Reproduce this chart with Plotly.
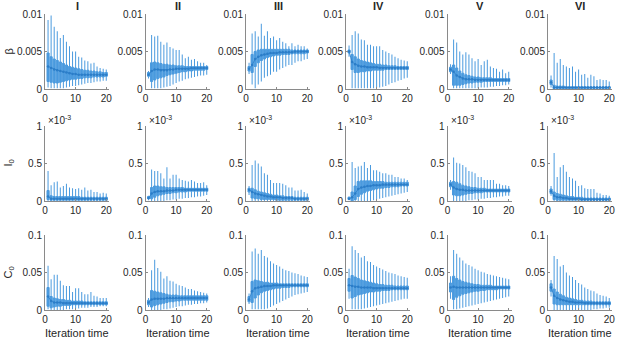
import plotly.graph_objects as go

ITER = [1, 2, 3, 4, 5, 6, 7, 8, 9, 10, 11, 12, 13, 14, 15, 16, 17, 18, 19, 20]
COLS = ["I", "II", "III", "IV", "V", "VI"]
ROW_LABELS = ["β", "I<sub>0</sub>", "C<sub>0</sub>"]
X_TICKS = [0, 10, 20]
Y_TICKS = [[0, 0.005, 0.01], [0, 0.5, 1], [0, 0.05, 0.1]]
Y_TICKTEXT = [["0", "0.005", "0.01"], ["0", "0.5", "1"], ["0", "0.05", "0.1"]]
ROW_SCALE = [1e-3, 1.0, 1e-2]   # row 1 values typed in 1e-3, row 2 in 1e-3 (axis x10^-3), row 3 in 1e-2

# ---------------- Row 1: beta (units of 1e-3) ----------------
BETA_UP = [
    [9.2, 9.8, 8.3, 7.7, 6.8, 7.2, 6.3, 5.7, 5.0, 5.0, 4.3, 4.2, 3.8, 3.7, 3.4, 3.5, 3.0, 2.8, 2.7, 2.6],
    [2.4, 7.2, 7.0, 7.1, 6.3, 5.9, 6.2, 5.6, 5.4, 5.2, 5.2, 4.6, 4.1, 4.3, 3.9, 4.0, 3.7, 3.5, 3.5, 3.2],
    [3.5, 7.4, 7.7, 7.0, 8.7, 7.1, 7.7, 6.8, 7.0, 6.5, 6.8, 6.3, 6.1, 5.7, 6.1, 5.7, 5.9, 5.7, 5.7, 5.4],
    [5.8, 7.2, 7.7, 7.4, 6.6, 6.5, 5.9, 5.9, 5.7, 5.7, 5.7, 5.2, 5.0, 4.8, 4.6, 4.3, 4.1, 3.9, 3.8, 3.7],
    [3.3, 6.6, 6.2, 5.0, 4.6, 4.9, 4.6, 4.1, 3.7, 4.0, 3.2, 3.7, 3.9, 3.0, 2.8, 2.7, 2.3, 2.6, 2.1, 2.3],
    [1.8, 4.8, 3.5, 4.0, 3.2, 3.0, 2.8, 3.0, 2.3, 2.6, 1.9, 2.0, 1.5, 1.9, 1.7, 1.2, 1.3, 1.2, 1.2, 1.0],
]
BETA_Q3 = [
    [4.8, 4.3, 4.0, 3.8, 3.6, 3.4, 3.2, 3.0, 2.9, 2.8, 2.7, 2.6, 2.5, 2.5, 2.4, 2.4, 2.3, 2.3, 2.2, 2.2],
    [2.2, 3.5, 3.6, 3.5, 3.4, 3.3, 3.3, 3.2, 3.2, 3.1, 3.1, 3.1, 3.0, 3.0, 3.0, 3.0, 3.0, 3.0, 3.0, 3.0],
    [3.0, 4.6, 5.0, 5.2, 5.3, 5.3, 5.3, 5.3, 5.3, 5.3, 5.3, 5.3, 5.3, 5.3, 5.2, 5.2, 5.2, 5.2, 5.2, 5.2],
    [5.2, 4.6, 4.3, 4.0, 3.8, 3.7, 3.6, 3.5, 3.4, 3.3, 3.3, 3.2, 3.2, 3.1, 3.1, 3.1, 3.0, 3.0, 3.0, 3.0],
    [2.9, 3.2, 2.8, 2.4, 2.1, 1.9, 1.8, 1.7, 1.6, 1.6, 1.5, 1.5, 1.5, 1.5, 1.4, 1.4, 1.4, 1.4, 1.4, 1.4],
    [1.2, 0.5, 0.4, 0.4, 0.4, 0.3, 0.3, 0.3, 0.3, 0.3, 0.3, 0.3, 0.3, 0.3, 0.3, 0.3, 0.3, 0.3, 0.3, 0.3],
]
BETA_MED = [
    [3.0, 2.8, 2.6, 2.5, 2.4, 2.3, 2.2, 2.1, 2.0, 2.0, 1.9, 1.9, 1.9, 1.9, 1.9, 1.9, 1.9, 1.9, 1.9, 1.9],
    [1.9, 2.4, 2.6, 2.6, 2.5, 2.5, 2.5, 2.6, 2.6, 2.7, 2.7, 2.7, 2.7, 2.7, 2.8, 2.8, 2.8, 2.8, 2.8, 2.8],
    [2.7, 3.2, 4.0, 4.3, 4.5, 4.6, 4.7, 4.8, 4.8, 4.8, 4.9, 4.9, 4.9, 4.9, 4.9, 5.0, 5.0, 5.0, 5.0, 5.0],
    [5.0, 3.6, 3.3, 3.1, 3.0, 3.0, 2.9, 2.9, 2.9, 2.9, 2.8, 2.8, 2.8, 2.8, 2.8, 2.8, 2.8, 2.8, 2.8, 2.8],
    [2.6, 2.3, 1.8, 1.6, 1.4, 1.3, 1.3, 1.3, 1.2, 1.2, 1.2, 1.2, 1.2, 1.2, 1.2, 1.2, 1.2, 1.2, 1.2, 1.2],
    [0.9, 0.2, 0.2, 0.2, 0.2, 0.2, 0.2, 0.2, 0.2, 0.2, 0.2, 0.2, 0.2, 0.2, 0.2, 0.2, 0.2, 0.2, 0.2, 0.2],
]
BETA_Q1 = [
    [1.0, 0.9, 0.8, 0.8, 0.9, 1.0, 1.1, 1.2, 1.3, 1.3, 1.4, 1.4, 1.5, 1.5, 1.5, 1.6, 1.6, 1.6, 1.6, 1.7],
    [1.7, 1.0, 1.2, 1.4, 1.5, 1.6, 1.8, 1.9, 2.0, 2.1, 2.2, 2.3, 2.3, 2.4, 2.4, 2.5, 2.5, 2.5, 2.5, 2.6],
    [2.4, 2.2, 3.0, 3.5, 3.8, 4.0, 4.2, 4.3, 4.4, 4.5, 4.5, 4.6, 4.6, 4.6, 4.7, 4.7, 4.7, 4.7, 4.7, 4.8],
    [4.8, 2.6, 2.2, 2.2, 2.3, 2.3, 2.4, 2.4, 2.5, 2.5, 2.5, 2.5, 2.6, 2.6, 2.6, 2.6, 2.6, 2.6, 2.6, 2.6],
    [2.3, 0.5, 0.5, 0.5, 0.6, 0.7, 0.8, 0.8, 0.9, 0.9, 0.9, 1.0, 1.0, 1.0, 1.0, 1.0, 1.0, 1.0, 1.0, 1.0],
    [0.6, 0.05, 0.05, 0.05, 0.05, 0.05, 0.05, 0.05, 0.05, 0.05, 0.05, 0.05, 0.05, 0.05, 0.05, 0.05, 0.05, 0.05, 0.05, 0.05],
]
BETA_LO = [
    [0.2, 0.1, 0.1, 0.1, 0.1, 0.1, 0.2, 0.3, 0.4, 0.4, 0.5, 0.6, 0.7, 0.8, 0.8, 0.9, 1.0, 1.0, 1.1, 1.1],
    [1.4, 0.1, 0.1, 0.1, 0.1, 0.2, 0.3, 0.4, 0.6, 0.8, 1.0, 1.1, 1.3, 1.4, 1.5, 1.6, 1.7, 1.8, 1.8, 1.9],
    [2.0, 0.6, 0.1, 0.6, 1.0, 1.5, 1.7, 1.9, 2.3, 2.3, 2.6, 2.8, 3.0, 3.2, 3.2, 3.5, 3.7, 3.7, 3.9, 4.0],
    [4.3, 0.1, 0.1, 0.1, 0.1, 0.1, 0.1, 0.1, 0.1, 0.2, 0.2, 0.3, 0.4, 0.6, 0.8, 0.9, 1.1, 1.2, 1.4, 1.5],
    [2.0, 0.1, 0.1, 0.1, 0.1, 0.1, 0.1, 0.1, 0.1, 0.1, 0.2, 0.2, 0.2, 0.3, 0.3, 0.4, 0.4, 0.5, 0.5, 0.6],
    [0.2, 0.0, 0.0, 0.0, 0.0, 0.0, 0.0, 0.0, 0.0, 0.0, 0.0, 0.0, 0.0, 0.0, 0.0, 0.0, 0.0, 0.0, 0.0, 0.0],
]

# ---------------- Row 2: I0 (units of 1e-3) ----------------
I0_UP = [
    [0.40, 0.21, 0.25, 0.26, 0.18, 0.20, 0.23, 0.18, 0.17, 0.16, 0.17, 0.15, 0.18, 0.14, 0.15, 0.12, 0.12, 0.10, 0.11, 0.10],
    [0.07, 0.42, 0.40, 0.40, 0.37, 0.30, 0.45, 0.30, 0.35, 0.35, 0.30, 0.28, 0.27, 0.26, 0.28, 0.26, 0.24, 0.24, 0.25, 0.21],
    [0.20, 0.48, 0.54, 0.50, 0.46, 0.37, 0.35, 0.28, 0.24, 0.24, 0.24, 0.23, 0.21, 0.18, 0.18, 0.14, 0.14, 0.15, 0.12, 0.10],
    [0.06, 0.52, 0.44, 0.46, 0.47, 0.52, 0.44, 0.48, 0.41, 0.41, 0.39, 0.37, 0.37, 0.35, 0.35, 0.32, 0.32, 0.30, 0.30, 0.28],
    [0.28, 0.58, 0.51, 0.50, 0.48, 0.45, 0.40, 0.39, 0.37, 0.32, 0.32, 0.28, 0.28, 0.28, 0.28, 0.23, 0.23, 0.21, 0.21, 0.20],
    [0.20, 0.64, 0.32, 0.45, 0.48, 0.39, 0.32, 0.30, 0.27, 0.20, 0.21, 0.17, 0.16, 0.16, 0.16, 0.11, 0.10, 0.08, 0.08, 0.07],
]
I0_Q3 = [
    [0.14, 0.07, 0.06, 0.06, 0.06, 0.06, 0.06, 0.06, 0.06, 0.06, 0.06, 0.05, 0.05, 0.05, 0.05, 0.05, 0.05, 0.05, 0.05, 0.05],
    [0.06, 0.18, 0.20, 0.20, 0.19, 0.19, 0.18, 0.18, 0.18, 0.18, 0.18, 0.18, 0.17, 0.17, 0.17, 0.17, 0.17, 0.17, 0.17, 0.17],
    [0.17, 0.17, 0.15, 0.13, 0.12, 0.11, 0.10, 0.09, 0.08, 0.08, 0.07, 0.07, 0.06, 0.06, 0.06, 0.05, 0.05, 0.05, 0.05, 0.05],
    [0.05, 0.12, 0.20, 0.26, 0.27, 0.27, 0.27, 0.27, 0.26, 0.26, 0.26, 0.26, 0.25, 0.25, 0.25, 0.25, 0.25, 0.25, 0.25, 0.25],
    [0.25, 0.26, 0.25, 0.23, 0.21, 0.20, 0.19, 0.18, 0.18, 0.17, 0.17, 0.17, 0.16, 0.16, 0.16, 0.16, 0.16, 0.16, 0.16, 0.16],
    [0.16, 0.12, 0.10, 0.09, 0.08, 0.07, 0.06, 0.06, 0.05, 0.05, 0.05, 0.04, 0.04, 0.04, 0.04, 0.04, 0.04, 0.04, 0.04, 0.04],
]
I0_MED = [
    [0.06, 0.03, 0.03, 0.03, 0.03, 0.03, 0.03, 0.03, 0.03, 0.03, 0.03, 0.03, 0.03, 0.03, 0.03, 0.03, 0.03, 0.03, 0.03, 0.03],
    [0.04, 0.10, 0.12, 0.13, 0.13, 0.13, 0.14, 0.14, 0.14, 0.15, 0.15, 0.15, 0.15, 0.15, 0.15, 0.15, 0.15, 0.15, 0.15, 0.15],
    [0.15, 0.12, 0.10, 0.09, 0.08, 0.07, 0.06, 0.06, 0.05, 0.05, 0.05, 0.04, 0.04, 0.04, 0.04, 0.03, 0.03, 0.03, 0.03, 0.03],
    [0.03, 0.05, 0.10, 0.16, 0.18, 0.19, 0.20, 0.20, 0.21, 0.21, 0.21, 0.22, 0.22, 0.22, 0.22, 0.22, 0.22, 0.22, 0.22, 0.22],
    [0.22, 0.18, 0.16, 0.15, 0.15, 0.14, 0.14, 0.14, 0.14, 0.14, 0.14, 0.14, 0.14, 0.14, 0.14, 0.14, 0.14, 0.14, 0.14, 0.14],
    [0.13, 0.07, 0.05, 0.05, 0.04, 0.04, 0.03, 0.03, 0.03, 0.03, 0.02, 0.02, 0.02, 0.02, 0.02, 0.02, 0.02, 0.02, 0.02, 0.02],
]
I0_Q1 = [
    [0.02, 0.01, 0.01, 0.01, 0.01, 0.01, 0.01, 0.01, 0.01, 0.01, 0.01, 0.01, 0.01, 0.01, 0.01, 0.01, 0.01, 0.01, 0.01, 0.01],
    [0.03, 0.03, 0.05, 0.07, 0.08, 0.09, 0.10, 0.10, 0.11, 0.11, 0.12, 0.12, 0.12, 0.13, 0.13, 0.13, 0.13, 0.13, 0.13, 0.13],
    [0.12, 0.04, 0.03, 0.03, 0.02, 0.02, 0.02, 0.02, 0.02, 0.01, 0.01, 0.01, 0.01, 0.01, 0.01, 0.01, 0.01, 0.01, 0.01, 0.01],
    [0.02, 0.00, 0.02, 0.06, 0.09, 0.11, 0.13, 0.14, 0.15, 0.16, 0.17, 0.17, 0.18, 0.18, 0.19, 0.19, 0.19, 0.20, 0.20, 0.20],
    [0.19, 0.08, 0.07, 0.07, 0.08, 0.09, 0.10, 0.10, 0.11, 0.11, 0.11, 0.12, 0.12, 0.12, 0.12, 0.12, 0.12, 0.12, 0.12, 0.12],
    [0.10, 0.02, 0.01, 0.01, 0.01, 0.01, 0.01, 0.01, 0.01, 0.01, 0.01, 0.01, 0.01, 0.01, 0.01, 0.01, 0.01, 0.01, 0.01, 0.01],
]
I0_LO = [
    [0.00, 0.00, 0.00, 0.00, 0.00, 0.00, 0.00, 0.00, 0.00, 0.00, 0.00, 0.00, 0.00, 0.00, 0.00, 0.00, 0.00, 0.00, 0.00, 0.00],
    [0.01, 0.00, 0.00, 0.00, 0.00, 0.00, 0.01, 0.01, 0.02, 0.02, 0.03, 0.03, 0.04, 0.04, 0.05, 0.05, 0.06, 0.06, 0.07, 0.08],
    [0.08, 0.00, 0.00, 0.00, 0.00, 0.00, 0.00, 0.00, 0.00, 0.00, 0.00, 0.00, 0.00, 0.00, 0.00, 0.00, 0.00, 0.00, 0.00, 0.00],
    [0.01, 0.00, 0.00, 0.00, 0.00, 0.00, 0.00, 0.00, 0.01, 0.02, 0.03, 0.04, 0.05, 0.06, 0.07, 0.08, 0.09, 0.10, 0.11, 0.12],
    [0.15, 0.00, 0.00, 0.00, 0.00, 0.00, 0.01, 0.01, 0.02, 0.02, 0.03, 0.03, 0.04, 0.04, 0.05, 0.05, 0.06, 0.06, 0.07, 0.07],
    [0.07, 0.00, 0.00, 0.00, 0.00, 0.00, 0.00, 0.00, 0.00, 0.00, 0.00, 0.00, 0.00, 0.00, 0.00, 0.00, 0.00, 0.00, 0.00, 0.00],
]

# ---------------- Row 3: C0 (units of 1e-2) ----------------
C0_UP = [
    [5.9, 4.1, 4.7, 4.7, 3.9, 3.3, 3.2, 3.2, 2.4, 2.9, 2.9, 2.4, 2.1, 2.1, 2.4, 1.9, 1.8, 1.6, 1.6, 1.6],
    [1.6, 5.3, 6.7, 5.6, 5.1, 4.2, 4.5, 3.9, 3.8, 3.5, 3.3, 3.2, 3.0, 2.8, 2.8, 2.6, 2.5, 2.4, 2.3, 2.2],
    [2.2, 7.8, 8.2, 7.5, 8.0, 7.2, 7.0, 6.5, 6.2, 6.0, 5.8, 5.5, 5.3, 5.2, 5.0, 4.9, 4.8, 4.6, 4.5, 4.4],
    [5.5, 8.5, 8.0, 7.6, 7.0, 7.2, 6.5, 6.4, 6.0, 5.8, 5.6, 5.4, 5.2, 5.0, 4.9, 4.8, 4.6, 4.5, 4.4, 4.3],
    [4.5, 8.0, 7.5, 7.0, 6.6, 6.2, 6.0, 5.8, 5.5, 5.3, 5.1, 5.0, 4.8, 4.7, 4.6, 4.5, 4.4, 4.3, 4.2, 4.1],
    [4.0, 7.2, 6.8, 5.8, 6.0, 5.0, 4.6, 4.4, 4.0, 3.6, 3.4, 3.0, 2.8, 2.6, 2.5, 2.2, 2.0, 1.9, 1.8, 1.6],
]
C0_Q3 = [
    [3.0, 1.8, 1.6, 1.5, 1.4, 1.4, 1.3, 1.3, 1.2, 1.2, 1.2, 1.2, 1.1, 1.1, 1.1, 1.1, 1.1, 1.1, 1.1, 1.1],
    [1.3, 2.6, 2.5, 2.4, 2.3, 2.2, 2.1, 2.0, 2.0, 2.0, 1.9, 1.9, 1.9, 1.9, 1.9, 1.9, 1.9, 1.9, 1.9, 1.9],
    [1.8, 3.8, 4.0, 3.9, 3.8, 3.7, 3.7, 3.6, 3.6, 3.6, 3.5, 3.5, 3.5, 3.5, 3.5, 3.5, 3.5, 3.5, 3.5, 3.5],
    [4.2, 4.6, 4.4, 4.2, 4.0, 3.9, 3.8, 3.7, 3.6, 3.5, 3.4, 3.4, 3.3, 3.3, 3.3, 3.2, 3.2, 3.2, 3.2, 3.2],
    [3.6, 4.5, 4.2, 4.0, 3.8, 3.7, 3.6, 3.5, 3.4, 3.4, 3.3, 3.3, 3.3, 3.3, 3.2, 3.2, 3.2, 3.2, 3.2, 3.2],
    [3.5, 2.8, 2.4, 2.1, 1.9, 1.7, 1.6, 1.5, 1.4, 1.3, 1.3, 1.2, 1.2, 1.2, 1.1, 1.1, 1.1, 1.1, 1.1, 1.1],
]
C0_MED = [
    [1.8, 1.2, 1.0, 1.0, 1.0, 0.9, 0.9, 0.9, 0.9, 0.9, 0.9, 0.9, 0.9, 0.9, 0.9, 0.9, 0.9, 0.9, 0.9, 0.9],
    [1.0, 1.4, 1.5, 1.5, 1.5, 1.5, 1.6, 1.6, 1.6, 1.6, 1.6, 1.6, 1.6, 1.6, 1.6, 1.6, 1.6, 1.6, 1.6, 1.6],
    [1.4, 2.5, 2.9, 3.0, 3.1, 3.2, 3.2, 3.2, 3.3, 3.3, 3.3, 3.3, 3.3, 3.3, 3.3, 3.3, 3.3, 3.3, 3.3, 3.3],
    [3.3, 3.2, 3.1, 3.1, 3.0, 3.0, 3.0, 3.0, 2.9, 2.9, 2.9, 2.9, 2.9, 2.9, 2.9, 2.9, 2.9, 2.9, 2.9, 2.9],
    [3.0, 3.1, 3.0, 3.0, 3.0, 3.0, 3.0, 3.0, 3.0, 3.0, 3.0, 3.0, 3.0, 3.0, 3.0, 3.0, 3.0, 3.0, 3.0, 3.0],
    [3.0, 1.9, 1.6, 1.4, 1.3, 1.2, 1.1, 1.1, 1.0, 1.0, 1.0, 0.9, 0.9, 0.9, 0.9, 0.9, 0.9, 0.9, 0.9, 0.9],
]
C0_Q1 = [
    [0.5, 0.3, 0.4, 0.5, 0.5, 0.6, 0.6, 0.6, 0.7, 0.7, 0.7, 0.7, 0.7, 0.7, 0.7, 0.7, 0.7, 0.7, 0.7, 0.7],
    [0.7, 0.4, 0.6, 0.7, 0.8, 0.9, 1.0, 1.1, 1.1, 1.2, 1.2, 1.3, 1.3, 1.3, 1.3, 1.3, 1.3, 1.3, 1.3, 1.3],
    [1.1, 1.0, 1.6, 2.0, 2.3, 2.5, 2.6, 2.7, 2.8, 2.9, 2.9, 3.0, 3.0, 3.0, 3.1, 3.1, 3.1, 3.1, 3.1, 3.1],
    [2.5, 1.6, 1.8, 2.0, 2.1, 2.2, 2.3, 2.4, 2.4, 2.5, 2.5, 2.6, 2.6, 2.6, 2.7, 2.7, 2.7, 2.7, 2.7, 2.7],
    [2.4, 1.4, 1.7, 1.9, 2.1, 2.2, 2.3, 2.4, 2.5, 2.5, 2.6, 2.6, 2.7, 2.7, 2.7, 2.7, 2.8, 2.8, 2.8, 2.8],
    [2.5, 0.8, 0.7, 0.7, 0.7, 0.7, 0.7, 0.7, 0.7, 0.7, 0.7, 0.7, 0.7, 0.7, 0.7, 0.7, 0.7, 0.7, 0.7, 0.7],
]
C0_LO = [
    [0.1, 0.0, 0.0, 0.0, 0.0, 0.0, 0.1, 0.1, 0.1, 0.2, 0.2, 0.3, 0.3, 0.3, 0.4, 0.4, 0.4, 0.5, 0.5, 0.5],
    [0.4, 0.0, 0.0, 0.0, 0.0, 0.1, 0.1, 0.2, 0.3, 0.4, 0.5, 0.5, 0.6, 0.7, 0.7, 0.8, 0.8, 0.9, 0.9, 1.0],
    [0.8, 0.1, 0.1, 0.1, 0.1, 0.1, 0.2, 0.4, 0.6, 0.8, 1.0, 1.2, 1.4, 1.6, 1.8, 2.0, 2.1, 2.2, 2.3, 2.4],
    [1.5, 0.1, 0.1, 0.1, 0.1, 0.2, 0.3, 0.4, 0.5, 0.6, 0.7, 0.8, 0.9, 1.0, 1.1, 1.2, 1.3, 1.4, 1.5, 1.5],
    [1.5, 0.1, 0.1, 0.2, 0.3, 0.4, 0.5, 0.6, 0.7, 0.8, 0.9, 1.0, 1.1, 1.2, 1.3, 1.4, 1.5, 1.6, 1.7, 1.8],
    [1.8, 0.0, 0.0, 0.0, 0.0, 0.0, 0.0, 0.0, 0.0, 0.0, 0.0, 0.0, 0.0, 0.0, 0.1, 0.1, 0.2, 0.2, 0.3, 0.3],
]

ROWS = [
    (BETA_UP, BETA_Q3, BETA_MED, BETA_Q1, BETA_LO),
    (I0_UP, I0_Q3, I0_MED, I0_Q1, I0_LO),
    (C0_UP, C0_Q3, C0_MED, C0_Q1, C0_LO),
]

# ---------------- Layout geometry (pixels) ----------------
W, H = 617, 340
COL_X0 = [45, 145.5, 246, 346, 447.5, 548]
X_MAX = 21
PLOT_W = 64.3
ROW_Y = [(14, 89), (126, 201), (235, 310)]
Y_RANGES = [[0, 0.01], [0, 1], [0, 0.1]]

BLUE = "#4a9ade"
DARK = "#2b7dc8"
AXC = "#8a8a8a"
TXT = "#262626"
FONT = "Liberation Sans, Arial, sans-serif"

fig = go.Figure()
layout = {}
n = 0
for r in range(3):
    up, q3, md, q1, lo = ROWS[r]
    s = ROW_SCALE[r]
    for c in range(6):
        n += 1
        xa = "x" if n == 1 else f"x{n}"
        ya = "y" if n == 1 else f"y{n}"
        fig.add_trace(go.Box(
            x=ITER,
            q1=[v * s for v in q1[c]], median=[v * s for v in md[c]], q3=[v * s for v in q3[c]],
            lowerfence=[v * s for v in lo[c]], upperfence=[v * s for v in up[c]],
            xaxis=xa, yaxis=ya, width=0.7, whiskerwidth=0,
            fillcolor=BLUE, line=dict(color=BLUE, width=1),
            boxpoints=False, showlegend=False, hoverinfo="skip",
        ))
        fig.add_trace(go.Scatter(
            x=ITER, y=[v * s for v in md[c]], xaxis=xa, yaxis=ya,
            mode="lines+markers", line=dict(color=DARK, width=0.8),
            marker=dict(size=2.5, color=DARK), showlegend=False, hoverinfo="skip",
        ))
        x0 = COL_X0[c]
        ytop, ybot = ROW_Y[r]
        layout["xaxis" if n == 1 else f"xaxis{n}"] = dict(
            domain=[x0 / W, (x0 + PLOT_W) / W], anchor=ya, range=[0, X_MAX],
            tickvals=X_TICKS, ticks="inside", ticklen=2, tickcolor=AXC, automargin=False,
            showline=True, linecolor=AXC, linewidth=1, showgrid=False, zeroline=False,
            tickfont=dict(size=10, color=TXT, family=FONT),
        )
        layout["yaxis" if n == 1 else f"yaxis{n}"] = dict(
            domain=[1 - ybot / H, 1 - ytop / H], anchor=xa, range=Y_RANGES[r],
            tickvals=Y_TICKS[r], ticktext=Y_TICKTEXT[r], ticks="inside", ticklen=2, tickcolor=AXC,
            automargin=False,
            showline=True, linecolor=AXC, linewidth=1, showgrid=False, zeroline=False,
            tickfont=dict(size=10, color=TXT, family=FONT),
        )

annotations = []
for c, name in enumerate(COLS):
    cx = (COL_X0[c] + PLOT_W / 2) / W
    annotations.append(dict(text=f"<b>{name}</b>", x=cx, y=1 - 6 / H, xref="paper", yref="paper",
                            xanchor="center", yanchor="middle", showarrow=False,
                            font=dict(size=11, color=TXT, family=FONT)))
    annotations.append(dict(text="Iteration time", x=cx, y=1 - 333 / H, xref="paper", yref="paper",
                            xanchor="center", yanchor="middle", showarrow=False,
                            font=dict(size=11, color=TXT, family=FONT)))
    annotations.append(dict(text="×10<sup>-3</sup>", x=(COL_X0[c] + 1) / W, y=1 - 120 / H,
                            xref="paper", yref="paper", xanchor="left", yanchor="middle", showarrow=False,
                            font=dict(size=10, color=TXT, family=FONT)))
for r, lab in enumerate(ROW_LABELS):
    cy = 1 - ((ROW_Y[r][0] + ROW_Y[r][1]) / 2) / H
    annotations.append(dict(text=lab, x=8 / W, y=cy, xref="paper", yref="paper", textangle=-90,
                            xanchor="center", yanchor="middle", showarrow=False,
                            font=dict(size=11, color=TXT, family=FONT)))

fig.update_layout(
    width=W, height=H, margin=dict(l=0, r=0, t=0, b=0, autoexpand=False),
    paper_bgcolor="white", plot_bgcolor="white",
    annotations=annotations, showlegend=False, **layout,
)
fig.write_html(
    "out.html",
    config={"responsive": False, "displayModeBar": False},
    post_script="document.body.style.margin='0';document.body.style.padding='0';document.body.style.overflow='hidden';",
)
